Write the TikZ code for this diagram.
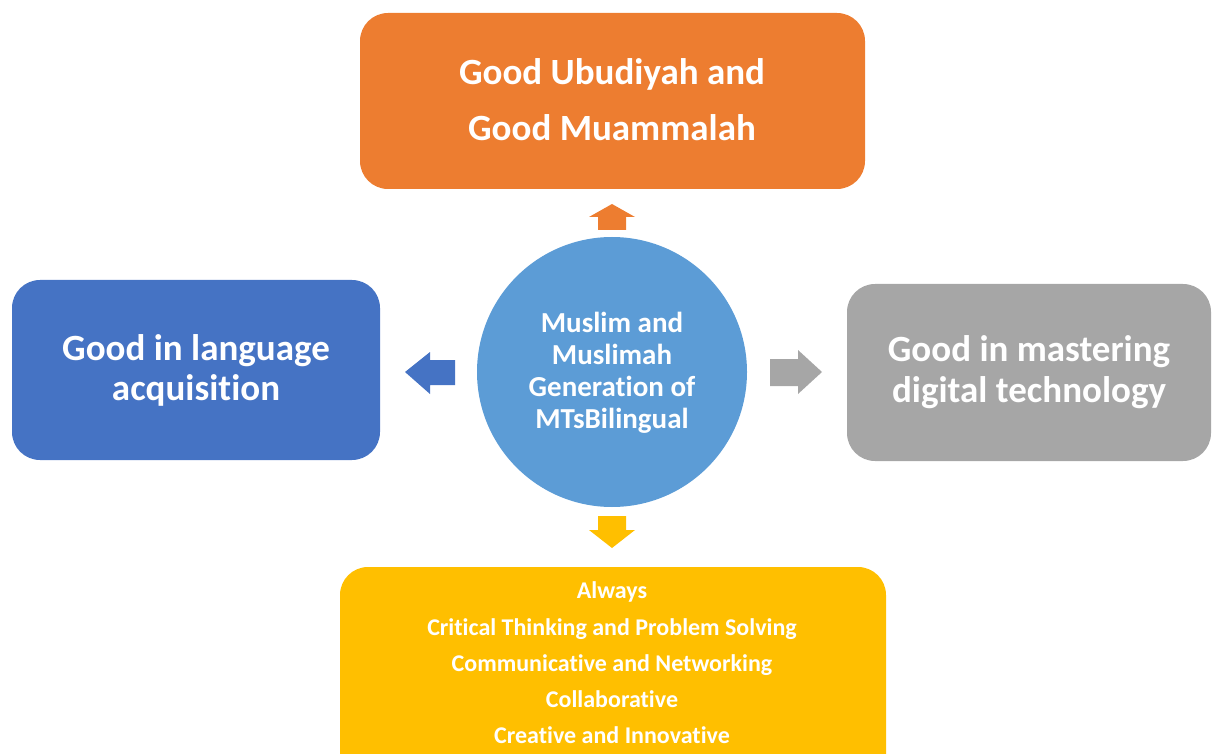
\documentclass[tikz,border=0pt]{standalone}
\usepackage{fontspec}
\setmainfont[Ligatures={NoCommon}]{Carlito}
\usepackage{tikz}
\definecolor{ubudorange}{rgb}{0.93,0.49,0.19}
\definecolor{langblue}{rgb}{0.27,0.45,0.77}
\definecolor{digigray}{rgb}{0.65,0.65,0.65}
\definecolor{skillgold}{rgb}{1,0.75,0}
\definecolor{genblue}{rgb}{0.36,0.61,0.84}
\tikzset{
  goalbox/.style={rounded corners=28pt,text=white,font=\bfseries},
  goaltext/.style={text=white,align=center,font=\bfseries}
}
\begin{document}
\begin{tikzpicture}[line cap=round,line join=round,x=1pt,y=-1pt]
\useasboundingbox (0,0) rectangle (1216,754);
\clip (0,0) rectangle (1216,754);
\fill[goalbox,fill=ubudorange] (360,13) rectangle (865,189);
\fill[goalbox,fill=langblue] (12,280) rectangle (380,460);
\fill[goalbox,fill=digigray] (847,284) rectangle (1211,461);
\fill[goalbox,fill=skillgold] (340,567) rectangle (886,800);
\fill[color=genblue] (612,372) circle (135);
\node[goaltext,font=\bfseries\fontsize{37}{56}\selectfont] (ubud) at (612,100) {Good Ubudiyah and\\Good Muammalah};
\node[goaltext,font=\bfseries\fontsize{37}{40}\selectfont] (lang) at (196,370) {Good in language\\acquisition};
\node[goaltext,font=\bfseries\fontsize{37}{41}\selectfont] (digi) at (1029,372) {Good in mastering\\digital technology};
\node[goaltext,font=\bfseries\fontsize{29}{32}\selectfont] (gen) at (612,373) {Muslim and\\Muslimah\\Generation of\\MTsBilingual};
\node[goaltext,font=\bfseries\fontsize{24}{36.3}\selectfont] (skill) at (612,663) {Always\\Critical Thinking and Problem Solving\\Communicative and Networking\\Collaborative\\Creative and Innovative};
\fill[color=ubudorange] (612,204) -- (635,217) -- (626,217) -- (626,230) -- (598,230) -- (598,217) -- (589,217) -- cycle;
\fill[color=langblue] (405,372) -- (430,352) -- (430,360) -- (455,360) -- (455,385) -- (430,385) -- (430,394) -- cycle;
\fill[color=digigray] (822,372) -- (798,350) -- (798,359) -- (770,359) -- (770,386) -- (798,386) -- (798,394) -- cycle;
\fill[color=skillgold] (612,548) -- (635,530) -- (626,530) -- (626,516) -- (598,516) -- (598,530) -- (589,530) -- cycle;
\end{tikzpicture}
\end{document}
